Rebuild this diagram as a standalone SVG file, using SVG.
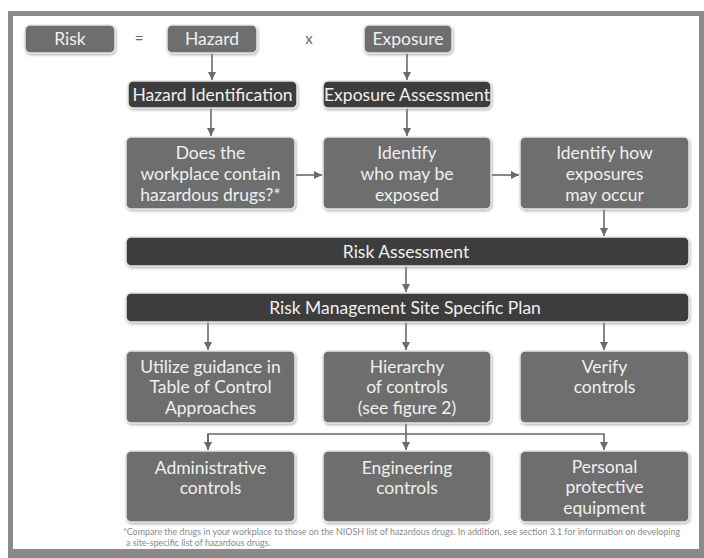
<svg xmlns="http://www.w3.org/2000/svg" width="704" height="558" viewBox="0 0 704 558">
<defs>
<style>
.frame{fill:#8a8a8a}
.bg{fill:#ffffff}
.mid{fill:#6e6e6e;stroke:#e6e6e6;stroke-width:1.5;filter:url(#sh)}
.dark{fill:#3e3e3e;stroke:#e6e6e6;stroke-width:1.5;filter:url(#sh)}
.t{font-family:Lato,"Open Sans","Liberation Sans",sans-serif;fill:#f0f0f0;text-anchor:middle}
.h{font-size:17.5px}
.b{font-size:17.5px}
.op{font-family:Lato,"Liberation Sans",sans-serif;font-size:15px;fill:#6a6a6a;text-anchor:middle}
.fn{font-family:Lato,"Liberation Sans",sans-serif;font-size:8.9px;fill:#8a8a8a}
.c{fill:none;stroke:#6a6a6a;stroke-width:1.6}
</style>
<filter id="sh" x="-10%" y="-20%" width="120%" height="150%">
<feDropShadow dx="0.8" dy="1.5" stdDeviation="1.2" flood-color="#8a8a8a" flood-opacity="0.6"/>
</filter>
<marker id="ah" viewBox="0 0 10 10" refX="10" refY="5" markerWidth="8" markerHeight="8" markerUnits="userSpaceOnUse" orient="auto">
<path d="M0,0 L10,5 L0,10 Z" fill="#6a6a6a"/>
</marker>
</defs>
<rect class="frame" x="8" y="11" width="696" height="547"/>
<rect class="bg" x="13" y="16" width="686" height="533"/>

<g id="connectors">
<line class="c" x1="212" y1="53" x2="212" y2="80" marker-end="url(#ah)"/>
<line class="c" x1="407" y1="53" x2="407" y2="80" marker-end="url(#ah)"/>
<line class="c" x1="211" y1="108" x2="211" y2="136" marker-end="url(#ah)"/>
<line class="c" x1="407" y1="108" x2="407" y2="136" marker-end="url(#ah)"/>
<line class="c" x1="295" y1="175" x2="322" y2="175" marker-end="url(#ah)"/>
<line class="c" x1="491" y1="175" x2="519" y2="175" marker-end="url(#ah)"/>
<line class="c" x1="604" y1="209" x2="604" y2="236" marker-end="url(#ah)"/>
<line class="c" x1="406" y1="266" x2="406" y2="292" marker-end="url(#ah)"/>
<line class="c" x1="208" y1="322" x2="208" y2="350" marker-end="url(#ah)"/>
<line class="c" x1="406" y1="322" x2="406" y2="350" marker-end="url(#ah)"/>
<line class="c" x1="604" y1="322" x2="604" y2="350" marker-end="url(#ah)"/>
<polyline class="c" points="406,423 406,434"/>
<polyline class="c" points="208,450 208,434 604,434 604,450" marker-end="url(#ah)"/>
<line class="c" x1="208" y1="434" x2="208" y2="450" marker-end="url(#ah)"/>
<line class="c" x1="406" y1="434" x2="406" y2="450" marker-end="url(#ah)"/>
</g>

<g id="risk"><rect class="mid" x="25" y="25" width="90" height="28" rx="5"/><text class="t h" x="70" y="45">Risk</text></g>
<text class="op" x="139" y="44">=</text>
<g id="hazard"><rect class="mid" x="167" y="25" width="90" height="28" rx="5"/><text class="t h" x="212" y="45">Hazard</text></g>
<text class="op" x="309" y="44">x</text>
<g id="exposure"><rect class="mid" x="364" y="25" width="88" height="28" rx="5"/><text class="t h" x="408" y="45">Exposure</text></g>

<g id="hazard-identification"><rect class="dark" x="128" y="81" width="169" height="27" rx="5"/><text class="t h" x="212.5" y="100.5">Hazard Identification</text></g>
<g id="exposure-assessment"><rect class="dark" x="323" y="81" width="168" height="27" rx="5"/><text class="t h" x="407" y="100.5">Exposure Assessment</text></g>

<g id="does-workplace"><rect class="mid" x="126" y="137" width="169" height="72" rx="5"/>
<text class="t b" x="210.5" y="159">Does the</text><text class="t b" x="210.5" y="180">workplace contain</text><text class="t b" x="210.5" y="201">hazardous drugs?*</text></g>
<g id="identify-who"><rect class="mid" x="323" y="137" width="168" height="72" rx="5"/>
<text class="t b" x="407" y="159">Identify</text><text class="t b" x="407" y="180">who may be</text><text class="t b" x="407" y="201">exposed</text></g>
<g id="identify-how"><rect class="mid" x="520" y="137" width="169" height="72" rx="5"/>
<text class="t b" x="604.5" y="159">Identify how</text><text class="t b" x="604.5" y="180">exposures</text><text class="t b" x="604.5" y="201">may occur</text></g>

<g id="risk-assessment"><rect class="dark" x="126" y="237" width="563" height="29" rx="5"/><text class="t h" x="406" y="257.5">Risk Assessment</text></g>
<g id="risk-management"><rect class="dark" x="126" y="293" width="563" height="29" rx="5"/><text class="t h" x="405" y="313.5">Risk Management Site Specific Plan</text></g>

<g id="utilize-guidance"><rect class="mid" x="126" y="351" width="169" height="72" rx="5"/>
<text class="t b" x="210.5" y="373">Utilize guidance in</text><text class="t b" x="210.5" y="393">Table of Control</text><text class="t b" x="210.5" y="414">Approaches</text></g>
<g id="hierarchy"><rect class="mid" x="323" y="351" width="168" height="72" rx="5"/>
<text class="t b" x="407" y="373">Hierarchy</text><text class="t b" x="407" y="393">of controls</text><text class="t b" x="407" y="414">(see figure 2)</text></g>
<g id="verify"><rect class="mid" x="520" y="351" width="169" height="72" rx="5"/>
<text class="t b" x="604.5" y="373">Verify</text><text class="t b" x="604.5" y="393">controls</text></g>

<g id="administrative"><rect class="mid" x="126" y="451" width="169" height="71" rx="5"/>
<text class="t b" x="210.5" y="474">Administrative</text><text class="t b" x="210.5" y="494">controls</text></g>
<g id="engineering"><rect class="mid" x="323" y="451" width="168" height="71" rx="5"/>
<text class="t b" x="407" y="474">Engineering</text><text class="t b" x="407" y="494">controls</text></g>
<g id="ppe"><rect class="mid" x="520" y="451" width="169" height="71" rx="5"/>
<text class="t b" x="604.5" y="473">Personal</text><text class="t b" x="604.5" y="493">protective</text><text class="t b" x="604.5" y="514">equipment</text></g>

<text class="fn" x="123" y="535">*Compare the drugs in your workplace to those on the NIOSH list of hazardous drugs. In addition, see section 3.1 for information on developing</text>
<text class="fn" x="126" y="546">a site-specific list of hazardous drugs.</text>
</svg>
